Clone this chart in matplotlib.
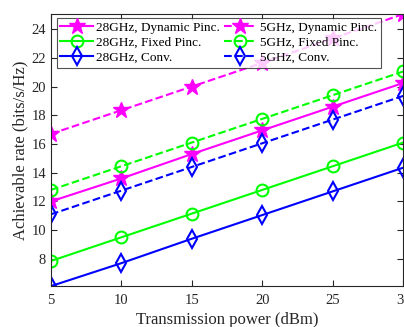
import matplotlib
matplotlib.use("Agg")
import matplotlib.pyplot as plt

plt.rcParams['font.family'] = ['Liberation Serif', 'DejaVu Serif']

power = [5, 10, 15, 20, 25, 30]

dyn_28 = [12.0, 13.6, 15.3, 16.95, 18.6, 20.25]
fix_28 = [7.85, 9.5, 11.15, 12.8, 14.45, 16.1]
conv_28 = [6.1, 7.7, 9.4, 11.05, 12.7, 14.35]
dyn_5 = [16.7, 18.35, 20.0, 21.65, 23.35, 25.05]
fix_5 = [12.8, 14.45, 16.1, 17.75, 19.4, 21.05]
conv_5 = [11.1, 12.75, 14.4, 16.05, 17.7, 19.35]

labels = ['28GHz, Dynamic Pinc.', '28GHz, Fixed Pinc.', '28GHz, Conv.',
          '5GHz, Dynamic Pinc.', '5GHz, Fixed Pinc.', '5GHz, Conv.']

fig = plt.figure(figsize=(4.04, 3.27), dpi=100)
ax = fig.add_axes([0.126, 0.125, 0.872, 0.832])

mag, grn, blu = '#ff00ff', '#00ff00', '#0000ff'
lw = 1.5

ax.plot(power, dyn_28, '-', color=mag, lw=lw, marker='*', ms=12,
        mfc=mag, mec=mag, label=labels[0])
ax.plot(power, fix_28, '-', color=grn, lw=lw, marker='o', ms=8.5,
        mfc='none', mec=grn, mew=1.5, label=labels[1])
ax.plot(power, conv_28, '-', color=blu, lw=lw, marker='d', ms=9,
        mfc='none', mec=blu, mew=1.5, label=labels[2])
ax.plot(power, dyn_5, '--', color=mag, lw=lw, marker='*', ms=12,
        mfc=mag, mec=mag, label=labels[3])
ax.plot(power, fix_5, '--', color=grn, lw=lw, marker='o', ms=8.5,
        mfc='none', mec=grn, mew=1.5, label=labels[4])
ax.plot(power, conv_5, '--', color=blu, lw=lw, marker='d', ms=9,
        mfc='none', mec=blu, mew=1.5, label=labels[5])

ax.set_xlim(5, 30)
ax.set_ylim(min(conv_28), max(dyn_5))
ax.set_xticks(power)
ax.set_yticks(range(8, 25, 2))
ax.tick_params(direction='in', top=True, right=True, labelsize=10.5,
               colors='#262626', length=4)
ax.tick_params(axis='x', pad=6)
for s in ax.spines.values():
    s.set_color('#262626')
    s.set_linewidth(0.8)

ax.set_xlabel('Transmission power (dBm)', fontsize=12, color='#262626', labelpad=3)
ax.set_ylabel('Achievable rate (bits/s/Hz)', fontsize=12, color='#262626', labelpad=2)

leg = ax.legend(ncol=2, loc='upper left', fontsize=9.5, handlelength=2.5,
                frameon=True, fancybox=False, edgecolor='#262626',
                borderpad=0.3, labelspacing=0.2, columnspacing=0.3,
                handletextpad=0.2, borderaxespad=0,
                bbox_to_anchor=(0.016, 0.986))
leg.get_frame().set_linewidth(0.8)

fig.savefig('out.png', dpi=100)
